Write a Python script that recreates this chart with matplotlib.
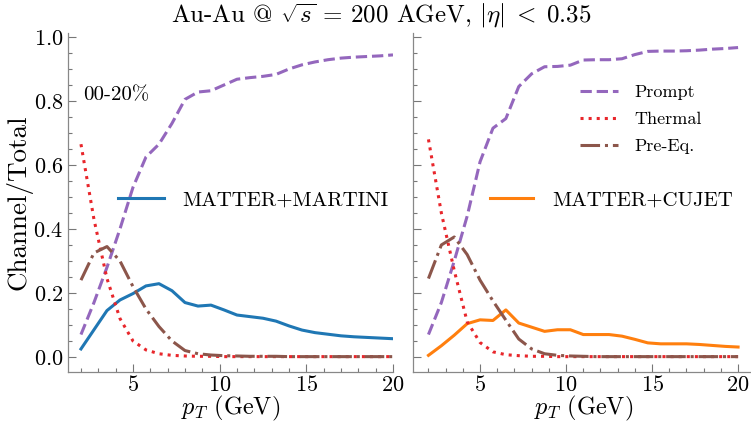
import matplotlib
matplotlib.use("Agg")
import matplotlib.pyplot as plt
from matplotlib.ticker import MultipleLocator

plt.rcParams['font.family'] = ['cmr10', 'DejaVu Serif']
plt.rcParams['mathtext.fontset'] = 'cm'
plt.rcParams['axes.formatter.use_mathtext'] = True

# ---- data ----
pt = [2.0, 2.75, 3.5, 4.25, 5.0, 5.75, 6.5, 7.25, 8.0, 8.75, 9.5, 10.25, 11.0,
      11.75, 12.5, 13.25, 14.0, 14.75, 15.5, 16.25, 17.0, 17.75, 18.5, 19.25, 20.0]

martini_total = [0.025, 0.085, 0.145, 0.178, 0.198, 0.222, 0.229, 0.207, 0.170, 0.159,
                 0.162, 0.147, 0.131, 0.126, 0.121, 0.112, 0.097, 0.084, 0.076, 0.071,
                 0.066, 0.063, 0.061, 0.059, 0.057]
martini_prompt = [0.07, 0.17, 0.28, 0.40, 0.53, 0.625, 0.665, 0.73, 0.805, 0.828,
                  0.832, 0.85, 0.868, 0.873, 0.877, 0.883, 0.90, 0.913, 0.922, 0.929,
                  0.934, 0.937, 0.939, 0.941, 0.944]
martini_thermal = [0.665, 0.43, 0.245, 0.12, 0.05, 0.022, 0.010, 0.005, 0.003, 0.002,
                   0.002, 0.001, 0.001, 0.001, 0.001, 0.001, 0.001, 0.001, 0.001, 0.001,
                   0.001, 0.001, 0.001, 0.001, 0.001]
martini_preeq = [0.24, 0.325, 0.345, 0.30, 0.22, 0.15, 0.095, 0.05, 0.02, 0.010,
                 0.006, 0.004, 0.003, 0.002, 0.002, 0.002, 0.001, 0.001, 0.001, 0.001,
                 0.001, 0.001, 0.001, 0.001, 0.001]

cujet_total = [0.005, 0.035, 0.068, 0.104, 0.116, 0.114, 0.147, 0.106, 0.093, 0.080,
               0.085, 0.085, 0.070, 0.070, 0.070, 0.065, 0.055, 0.044, 0.041, 0.041,
               0.041, 0.039, 0.036, 0.033, 0.031]
cujet_prompt = [0.07, 0.17, 0.30, 0.44, 0.61, 0.715, 0.745, 0.845, 0.885, 0.907,
                0.908, 0.912, 0.928, 0.929, 0.929, 0.932, 0.945, 0.955, 0.956, 0.956,
                0.957, 0.959, 0.962, 0.964, 0.967]
cujet_thermal = [0.68, 0.45, 0.27, 0.11, 0.045, 0.016, 0.007, 0.004, 0.002, 0.002,
                 0.001, 0.001, 0.001, 0.001, 0.001, 0.001, 0.001, 0.001, 0.001, 0.001,
                 0.001, 0.001, 0.001, 0.001, 0.001]
cujet_preeq = [0.245, 0.35, 0.375, 0.32, 0.24, 0.175, 0.115, 0.056, 0.025, 0.010,
               0.005, 0.003, 0.002, 0.001, 0.001, 0.001, 0.001, 0.001, 0.001, 0.001,
               0.001, 0.001, 0.001, 0.001, 0.001]

y_ticks = [0.0, 0.2, 0.4, 0.6, 0.8, 1.0]
x_ticks = [5, 10, 15, 20]

title = r"Au-Au @ $\sqrt{s}$ = 200 AGeV, $|\eta|\;<\;0.35$"
centrality = "00-20%"

# ---- figure ----
fig = plt.figure(figsize=(7.51, 4.23), dpi=100)
axL = fig.add_axes([0.0905, 0.1206, 0.4328, 0.8014])
axR = fig.add_axes([0.5499, 0.1206, 0.4535, 0.8014])

lw = 2.2
c_prompt = '#9467bd'
c_thermal = '#e8262b'
c_preeq = '#8c564b'

def draw(ax, total, prompt, thermal, preeq, color, label):
    l_tot, = ax.plot(pt, total, color=color, lw=lw, label=label)
    l_p, = ax.plot(pt, prompt, color=c_prompt, lw=lw, ls='--', label='Prompt')
    l_t, = ax.plot(pt, thermal, color=c_thermal, lw=lw, ls=':', label='Thermal')
    l_e, = ax.plot(pt, preeq, color=c_preeq, lw=lw, ls='-.', label='Pre-Eq.')
    return l_tot, l_p, l_t, l_e

mart = draw(axL, martini_total, martini_prompt, martini_thermal, martini_preeq,
            '#1f77b4', 'MATTER+MARTINI')
cuj = draw(axR, cujet_total, cujet_prompt, cujet_thermal, cujet_preeq,
           '#ff7f0e', 'MATTER+CUJET')

for ax in (axL, axR):
    ax.set_ylim(-0.047, 1.0125)
    ax.set_yticks(y_ticks)
    ax.set_xticks(x_ticks)
    ax.xaxis.set_minor_locator(MultipleLocator(1))
    ax.yaxis.set_minor_locator(MultipleLocator(0.05))
    ax.tick_params(which='both', direction='in', color='#777777', labelsize=16)
    ax.tick_params(which='major', length=6, width=0.8)
    ax.tick_params(which='minor', length=3, width=0.8)
    ax.tick_params(axis='x', pad=2.5)
    for s in ('top', 'right'):
        ax.spines[s].set_visible(False)
    for s in ('left', 'bottom'):
        ax.spines[s].set_color('#888888')
        ax.spines[s].set_linewidth(0.9)
    ax.set_xlabel(r"$p_T$ (GeV)", fontsize=17.5, labelpad=-1.5)
    ax.patch.set_alpha(0)

axL.set_xlim(1.25, 20.0)
axR.set_xlim(1.1, 20.9)
axR.tick_params(axis='y', labelleft=False)
axL.set_ylabel("Channel/Total", fontsize=19.5, labelpad=1)

axL.text(0.046, 0.817, centrality, transform=axL.transAxes, fontsize=15,
         ha='left', va='center')

axL.legend(handles=[mart[0]], loc='center left', bbox_to_anchor=(0.155, 0.507),
           frameon=False, fontsize=15, handlelength=2.2, handletextpad=0.85,
           borderaxespad=0, borderpad=0)
style_leg = axR.legend(handles=list(cuj[1:]), loc='center left',
                       bbox_to_anchor=(0.49, 0.745),
                       frameon=False, fontsize=13, handlelength=2.1, handletextpad=0.9,
                       labelspacing=0.62, borderaxespad=0, borderpad=0)
axR.add_artist(style_leg)
axR.legend(handles=[cuj[0]], loc='center left', bbox_to_anchor=(0.225, 0.507),
           frameon=False, fontsize=15, handlelength=2.1, handletextpad=0.9,
           borderaxespad=0, borderpad=0)

fig.text(0.507, 0.962, title, fontsize=18, ha='center', va='center')

fig.savefig("out.png", dpi=100)
